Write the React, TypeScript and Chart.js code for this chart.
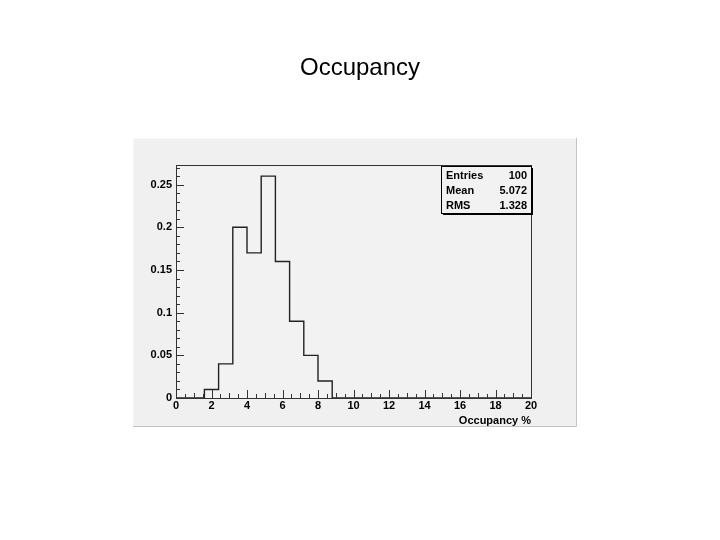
import React, { useEffect, useRef } from "react";
import { Chart, registerables } from "chart.js";

Chart.register(...registerables);

const chartTitle = "Occupancy";
const xAxisTitle = "Occupancy %";
const binEdges = [0, 0.8, 1.6, 2.4, 3.2, 4.0, 4.8, 5.6, 6.4, 7.2, 8.0, 8.8, 9.6, 10.4, 11.2, 12.0, 12.8, 13.6, 14.4, 15.2, 16.0, 16.8, 17.6, 18.4, 19.2, 20.0];
const binValues = [0, 0, 0.01, 0.04, 0.2, 0.17, 0.26, 0.16, 0.09, 0.05, 0.02, 0, 0, 0, 0, 0, 0, 0, 0, 0, 0, 0, 0, 0, 0];
const xTickValues = [0, 2, 4, 6, 8, 10, 12, 14, 16, 18, 20];
const yTickValues = [0, 0.05, 0.1, 0.15, 0.2, 0.25];
const statLabels = ["Entries", "Mean", "RMS"];
const statValues = ["100", "5.072", "1.328"];
const Y_MAX = 0.273;

const FONT = "'Liberation Sans', Arial, sans-serif";

export default function App() {
  const ref = useRef<HTMLCanvasElement | null>(null);

  useEffect(() => {
    const canvas = ref.current;
    if (!canvas) return;

    const points: { x: number; y: number }[] = [];
    for (let i = 0; i < binValues.length; i++) points.push({ x: binEdges[i], y: binValues[i] });
    points.push({ x: binEdges[binEdges.length - 1], y: binValues[binValues.length - 1] });

    const rootPlugin = {
      id: "rootStyle",
      beforeDraw(chart: any) {
        const ctx = chart.ctx;
        ctx.save();
        ctx.fillStyle = "#ffffff";
        ctx.fillRect(0, 0, chart.width, chart.height);
        // pad
        ctx.fillStyle = "#f0f0f0";
        ctx.fillRect(133, 138, 444, 289);
        ctx.strokeStyle = "#c4c4c4";
        ctx.lineWidth = 1;
        ctx.beginPath();
        ctx.moveTo(576.5, 138);
        ctx.lineTo(576.5, 426.5);
        ctx.lineTo(133, 426.5);
        ctx.stroke();
        ctx.strokeStyle = "#f8f8f8";
        ctx.beginPath();
        ctx.moveTo(133.5, 426);
        ctx.lineTo(133.5, 138.5);
        ctx.lineTo(576, 138.5);
        ctx.stroke();
        // frame background
        const a = chart.chartArea;
        ctx.fillStyle = "#f2f2f2";
        ctx.fillRect(a.left, a.top, a.right - a.left, a.bottom - a.top);
        // title
        ctx.fillStyle = "#000";
        ctx.font = `24px ${FONT}`;
        ctx.textAlign = "center";
        ctx.textBaseline = "middle";
        ctx.fillText(chartTitle, 360, 68);
        ctx.restore();
      },
      afterDatasetsDraw(chart: any) {
        const ctx = chart.ctx;
        const a = chart.chartArea;
        const xs = chart.scales.x;
        const ys = chart.scales.y;
        ctx.save();
        ctx.strokeStyle = "#333";
        ctx.lineWidth = 1;
        // frame
        ctx.strokeRect(Math.round(a.left) + 0.5, Math.round(a.top) + 0.5, Math.round(a.right - a.left), Math.round(a.bottom - a.top));
        // x ticks inward
        ctx.beginPath();
        for (let k = 0; k < xTickValues.length; k++) {
          const v = xTickValues[k];
          const px = Math.round(xs.getPixelForValue(v)) + 0.5;
          ctx.moveTo(px, a.bottom);
          ctx.lineTo(px, a.bottom - 8);
          if (k < xTickValues.length - 1) {
            const step = (xTickValues[k + 1] - v) / 4;
            for (let s = 1; s < 4; s++) {
              const mx = Math.round(xs.getPixelForValue(v + s * step)) + 0.5;
              ctx.moveTo(mx, a.bottom);
              ctx.lineTo(mx, a.bottom - (s === 2 ? 5 : 4));
            }
          }
        }
        // y ticks inward
        for (let k = 0; k < yTickValues.length; k++) {
          const v = yTickValues[k];
          const py = Math.round(ys.getPixelForValue(v)) + 0.5;
          ctx.moveTo(a.left, py);
          ctx.lineTo(a.left + 8, py);
          const step = 0.01;
          for (let s = 1; s < 5; s++) {
            const val = v + s * step;
            if (val > Y_MAX) break;
            const my = Math.round(ys.getPixelForValue(val)) + 0.5;
            ctx.moveTo(a.left, my);
            ctx.lineTo(a.left + 4, my);
          }
        }
        ctx.stroke();

        // stats box
        const bx = 441, by = 166, bw = 90, bh = 47;
        ctx.fillStyle = "#f2f2f2";
        ctx.fillRect(bx, by, bw, bh);
        ctx.strokeStyle = "#000";
        ctx.lineWidth = 1;
        ctx.strokeRect(bx + 0.5, by + 0.5, bw, bh);
        ctx.lineWidth = 2;
        ctx.beginPath();
        ctx.moveTo(bx + bw + 1, by + 2);
        ctx.lineTo(bx + bw + 1, by + bh + 1);
        ctx.lineTo(bx + 2, by + bh + 1);
        ctx.stroke();
        ctx.fillStyle = "#000";
        ctx.font = `bold 11px ${FONT}`;
        ctx.textBaseline = "middle";
        for (let i = 0; i < statLabels.length; i++) {
          const ty = by + 10 + i * 15;
          ctx.textAlign = "left";
          ctx.fillText(statLabels[i], bx + 5, ty);
          ctx.textAlign = "right";
          ctx.fillText(statValues[i], bx + bw - 4, ty);
        }

        // x axis title
        ctx.font = `bold 11px ${FONT}`;
        ctx.textAlign = "right";
        ctx.fillText(xAxisTitle, a.right, 421);
        ctx.restore();
      },
    };

    const chart = new Chart(canvas, {
      type: "line",
      data: {
        datasets: [
          {
            data: points,
            stepped: "before",
            borderColor: "#222222",
            borderWidth: 1.4,
            pointRadius: 0,
            fill: false,
          },
        ],
      },
      options: {
        responsive: false,
        animation: false,
        events: [],
        layout: { padding: { left: 136, right: 189, top: 165, bottom: 122 } },
        plugins: { legend: { display: false }, title: { display: false }, tooltip: { enabled: false } },
        scales: {
          x: {
            type: "linear",
            min: 0,
            max: 20,
            grid: { display: false, drawTicks: false },
            border: { display: false },
            afterFit: (s: any) => { s.height = 20; },
            afterBuildTicks: (s: any) => { s.ticks = xTickValues.map((v) => ({ value: v })); },
            ticks: {
              color: "#000",
              font: { family: FONT, size: 11, weight: "bold" },
              padding: 1,
              maxRotation: 0,
              callback: (v: any) => String(v),
            },
          },
          y: {
            type: "linear",
            min: 0,
            max: Y_MAX,
            grid: { display: false, drawTicks: false },
            border: { display: false },
            afterFit: (s: any) => { s.width = 40; },
            afterBuildTicks: (s: any) => { s.ticks = yTickValues.map((v) => ({ value: v })); },
            ticks: {
              color: "#000",
              font: { family: FONT, size: 11, weight: "bold" },
              padding: 4,
              callback: (v: any) => String(parseFloat(Number(v).toFixed(2))),
            },
          },
        },
      },
      plugins: [rootPlugin],
    } as any);

    return () => chart.destroy();
  }, []);

  return (
    <div style={{ position: "fixed", left: 0, top: 0, width: 720, height: 540 }}>
      <canvas ref={ref} width={720} height={540} style={{ display: "block" }} />
    </div>
  );
}
